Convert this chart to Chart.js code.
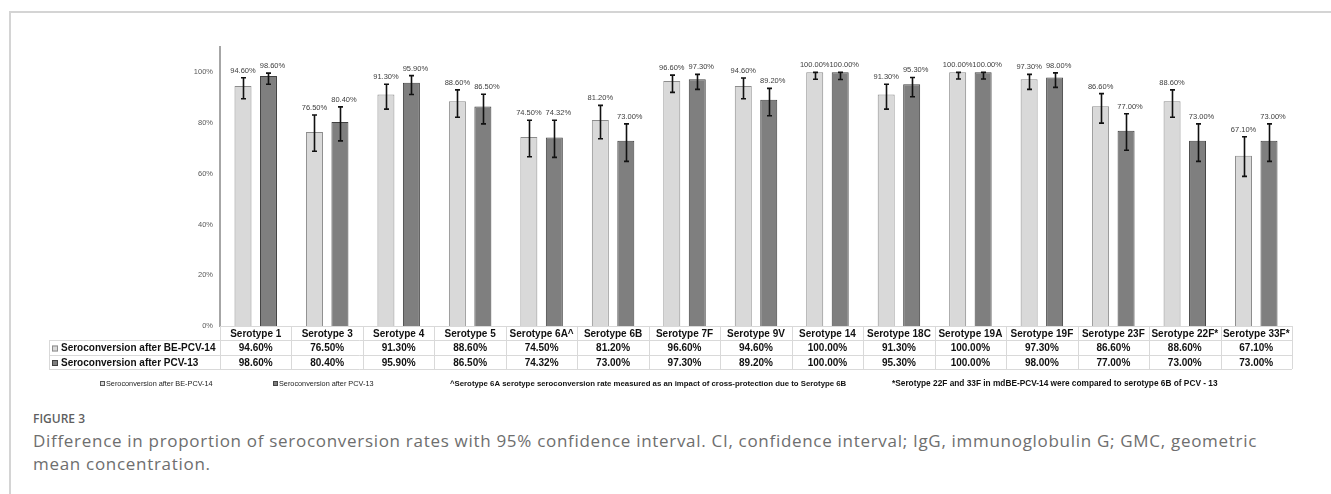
<!DOCTYPE html>
<html>
<head>
<meta charset="utf-8">
<script src="https://cdn.jsdelivr.net/npm/chart.js@4.4.1/dist/chart.umd.min.js"></script>
<style>
  html, body { margin: 0; padding: 0; background: #fff; }
  body { width: 1331px; height: 494px; position: relative; overflow: hidden; }
  #frame { position: absolute; left: 9px; top: 11px; width: 1330px; height: 490px;
           border-top: 2px solid #d4d4d4; border-left: 2px solid #d4d4d4; }
  #wrap { position: absolute; left: 0; top: 0; width: 1331px; height: 400px; }
  #fig { position: absolute; left: 33px; top: 410px; font-family: "Open Sans", sans-serif;
         font-size: 12px; font-weight: 600; color: #5f5f5f; line-height: normal; }
  #cap { position: absolute; left: 33px; top: 428.5px; font-family: "Open Sans", sans-serif;
         font-size: 17px; font-weight: 400; color: #6e6e6e; line-height: 23px; letter-spacing: 0.7px;
         white-space: nowrap; }
</style>
</head>
<body>
<div id="frame"></div>
<div id="wrap"><canvas id="c"></canvas></div>
<div id="fig">FIGURE 3</div>
<div id="cap">Difference in proportion of seroconversion rates with 95% confidence interval. CI, confidence interval; IgG, immunoglobulin G; GMC, geometric<br>mean concentration.</div>
<script>
// Serotypes on the category axis
const categories = ['Serotype 1', 'Serotype 3', 'Serotype 4', 'Serotype 5', 'Serotype 6A^',
  'Serotype 6B', 'Serotype 7F', 'Serotype 9V', 'Serotype 14', 'Serotype 18C', 'Serotype 19A',
  'Serotype 19F', 'Serotype 23F', 'Serotype 22F*', 'Serotype 33F*'];

const seriesNames = ['Seroconversion after BE-PCV-14', 'Seroconversion after PCV-13'];

// Seroconversion rates (%)
const beValues  = [94.6, 76.5, 91.3, 88.6, 74.5, 81.2, 96.6, 94.6, 100, 91.3, 100, 97.3, 86.6, 88.6, 67.1];
const pcvValues = [98.6, 80.4, 95.9, 86.5, 74.32, 73.0, 97.3, 89.2, 100, 95.3, 100, 98.0, 77.0, 73.0, 73.0];

// 95% confidence limits (%)
const beLow   = [89.6, 68.9, 85.5, 82.3, 66.7, 73.8, 92.1, 89.6, 97.3, 85.5, 97.4, 93.3, 80.0, 82.3, 59.0];
const beHigh  = [97.9, 83.2, 95.3, 93.1, 81.1, 87.0, 98.9, 97.8, 100, 95.3, 100, 99.2, 91.6, 93.1, 74.6];
const pcvLow  = [95.3, 73.0, 91.3, 79.7, 66.5, 64.9, 93.3, 82.9, 97.2, 90.4, 97.4, 94.1, 69.3, 64.9, 64.9];
const pcvHigh = [99.7, 86.4, 98.7, 91.4, 81.1, 79.7, 99.2, 93.7, 100, 98.0, 100, 99.8, 83.7, 79.7, 79.7];

// Y axis tick values
const yTicks = [0, 20, 40, 60, 80, 100];

const footnotes = [
  '^Serotype 6A serotype seroconversion rate measured as an impact of cross-protection due to Serotype 6B',
  '*Serotype 22F and 33F in mdBE-PCV-14 were compared to serotype 6B of PCV - 13'
];

const fills   = ['#d9d9d9', '#7f7f7f'];
const borders = ['#8c8c8c', '#404040'];
const lows  = [beLow, pcvLow];
const highs = [beHigh, pcvHigh];
const fmt = v => v.toFixed(2) + '%';

// Whiskers and value labels above each bar
const errorBars = {
  id: 'errorBars',
  afterDatasetsDraw(chart) {
    const { ctx, scales: { y } } = chart;
    ctx.save();
    chart.data.datasets.forEach((ds, di) => {
      const meta = chart.getDatasetMeta(di);
      meta.data.forEach((bar, i) => {
        const x = Math.round(bar.x) + 0.5;
        const yt = y.getPixelForValue(highs[di][i]);
        const yb = y.getPixelForValue(lows[di][i]);
        ctx.strokeStyle = '#111';
        ctx.lineWidth = 1.6;
        ctx.beginPath();
        ctx.moveTo(x, yt); ctx.lineTo(x, yb);
        ctx.moveTo(x - 2.5, yt); ctx.lineTo(x + 2.5, yt);
        ctx.moveTo(x - 2.5, yb); ctx.lineTo(x + 2.5, yb);
        ctx.stroke();
        ctx.fillStyle = '#404040';
        ctx.font = '7.5px "Liberation Sans", Arial, sans-serif';
        ctx.textAlign = 'center';
        ctx.textBaseline = 'alphabetic';
        ctx.fillText(fmt(ds.data[i]), bar.x + di * 4, yt - 5);
      });
    });
    ctx.restore();
  }
};

// Data table beneath the plot, plus the key line
const dataTable = {
  id: 'dataTable',
  afterDraw(chart) {
    const { ctx, chartArea: ca, scales: { x } } = chart;
    const rows = [ca.bottom, ca.bottom + 14, ca.bottom + 29, ca.bottom + 43];
    const leftX = 49;
    const catW = (ca.right - ca.left) / categories.length;
    ctx.save();
    ctx.strokeStyle = '#d9d9d9';
    ctx.lineWidth = 1;
    ctx.beginPath();
    ctx.moveTo(ca.left, rows[0] + 0.5); ctx.lineTo(ca.right, rows[0] + 0.5);
    for (let r = 1; r < 4; r++) { ctx.moveTo(leftX, rows[r] + 0.5); ctx.lineTo(ca.right, rows[r] + 0.5); }
    for (let k = 0; k <= categories.length; k++) {
      const vx = Math.round(ca.left + k * catW) + 0.5;
      ctx.moveTo(vx, rows[0]); ctx.lineTo(vx, rows[3]);
    }
    ctx.moveTo(leftX + 0.5, rows[1]); ctx.lineTo(leftX + 0.5, rows[3]);
    ctx.stroke();

    ctx.font = 'bold 10px "Liberation Sans", Arial, sans-serif';
    ctx.fillStyle = '#111';
    ctx.textAlign = 'center';
    ctx.textBaseline = 'middle';
    categories.forEach((c, i) => {
      const cx = x.getPixelForValue(i);
      ctx.fillText(c, cx, (rows[0] + rows[1]) / 2 + 1);
      ctx.fillText(fmt(beValues[i]), cx, (rows[1] + rows[2]) / 2 + 1);
      ctx.fillText(fmt(pcvValues[i]), cx, (rows[2] + rows[3]) / 2 + 1);
    });
    ctx.textAlign = 'left';
    seriesNames.forEach((n, r) => {
      const cy = (rows[r + 1] + rows[r + 2]) / 2 + 1;
      ctx.fillStyle = fills[r];
      ctx.fillRect(52, cy - 3, 6, 6);
      ctx.strokeStyle = borders[r];
      ctx.strokeRect(52.5, cy - 2.5, 5, 5);
      ctx.fillStyle = '#111';
      ctx.fillText(n, 61, cy);
    });

    // key line below the table
    const ly = 384;
    ctx.font = '7.3px "Liberation Sans", Arial, sans-serif';
    const keyX = [100, 273];
    seriesNames.forEach((n, r) => {
      ctx.fillStyle = fills[r];
      ctx.fillRect(keyX[r], ly - 3, 5, 5);
      ctx.strokeStyle = r === 0 ? '#555' : '#444';
      ctx.strokeRect(keyX[r] + 0.5, ly - 2.5, 4, 4);
      ctx.fillStyle = '#222';
      ctx.fillText(n, keyX[r] + 6, ly);
    });
    ctx.fillStyle = '#111';
    ctx.font = 'bold 7.8px "Liberation Sans", Arial, sans-serif';
    ctx.fillText(footnotes[0], 450, ly);
    ctx.font = 'bold 8.3px "Liberation Sans", Arial, sans-serif';
    ctx.fillText(footnotes[1], 892, ly);
    ctx.restore();
  }
};

new Chart(document.getElementById('c'), {
  type: 'bar',
  data: {
    labels: categories,
    datasets: [
      { label: seriesNames[0], data: beValues, backgroundColor: fills[0], borderColor: borders[0], borderWidth: 1 },
      { label: seriesNames[1], data: pcvValues, backgroundColor: fills[1], borderColor: borders[1], borderWidth: 1 }
    ]
  },
  options: {
    responsive: true,
    maintainAspectRatio: false,
    devicePixelRatio: 1,
    animation: false,
    categoryPercentage: 0.713,
    barPercentage: 0.667,
    layout: { padding: { left: 0, top: 47, right: 39, bottom: 74 } },
    plugins: { legend: { display: false }, tooltip: { enabled: false } },
    scales: {
      x: { display: false },
      y: {
        min: 0, max: 110,
        afterFit(scale) { scale.width = 220; },
        afterBuildTicks(scale) { scale.ticks = yTicks.map(v => ({ value: v })); },
        grid: { display: false, drawTicks: false },
        border: { display: true, color: '#a6a6a6', width: 2 },
        ticks: {
          padding: 7,
          color: '#595959',
          font: { family: '"Liberation Sans", Arial, sans-serif', size: 7.5 },
          callback: v => v + '%'
        }
      }
    }
  },
  plugins: [errorBars, dataTable]
});
</script>
</body>
</html>
